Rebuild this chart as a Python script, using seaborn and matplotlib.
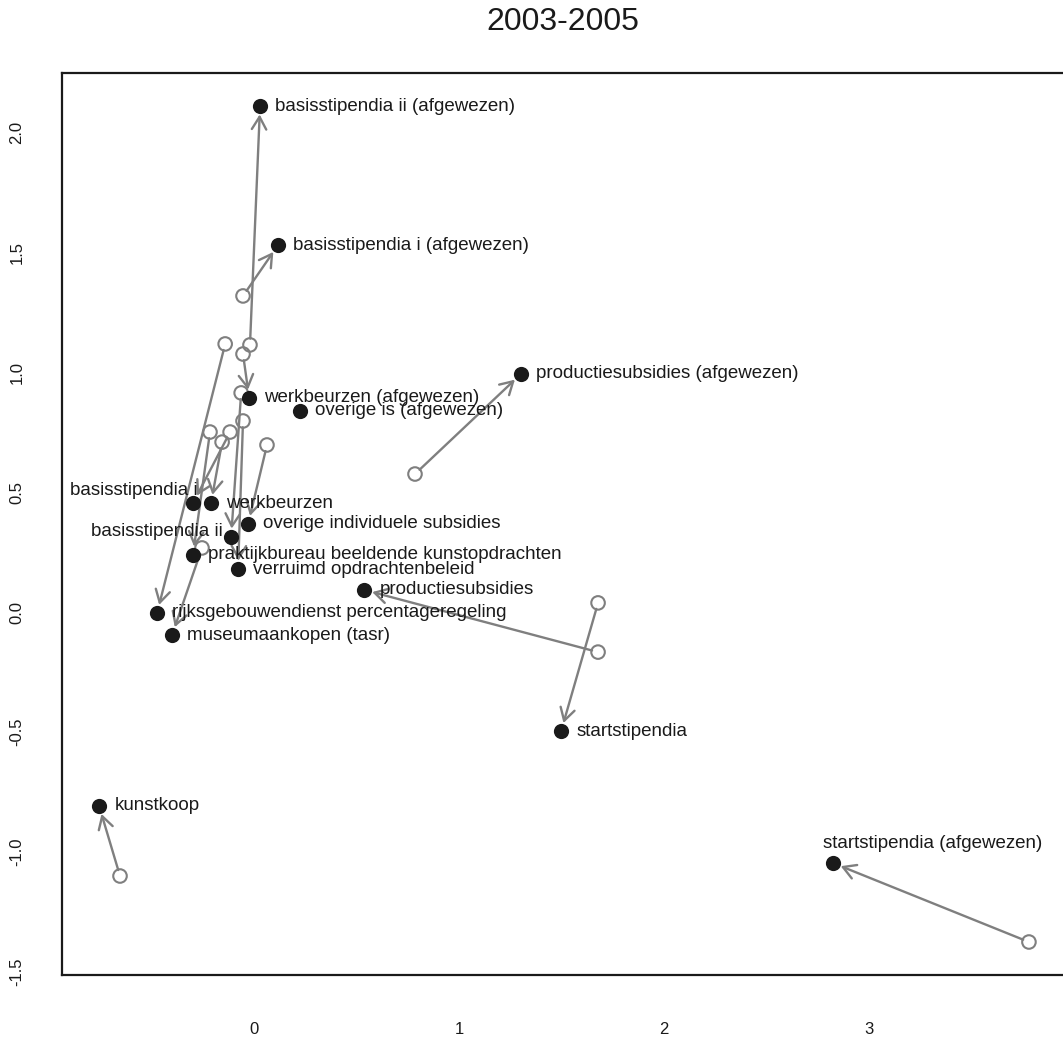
import numpy as np
import pandas as pd
import seaborn as sns
import matplotlib.pyplot as plt

# regelingen (eindpositie 2005 = gevulde punten, beginpositie 2003 = open cirkels)
names = ['basisstipendia ii (afgewezen)', 'basisstipendia i (afgewezen)',
         'productiesubsidies (afgewezen)', 'werkbeurzen (afgewezen)',
         'overige is (afgewezen)', 'basisstipendia i', 'werkbeurzen',
         'overige individuele subsidies', 'basisstipendia ii',
         'praktijkbureau beeldende kunstopdrachten', 'verruimd opdrachtenbeleid',
         'productiesubsidies', 'rijksgebouwendienst percentageregeling',
         'museumaankopen (tasr)', 'startstipendia', 'kunstkoop',
         'startstipendia (afgewezen)']

x_2005 = [0.029, 0.117, 1.302, -0.024, 0.224, -0.298, -0.210, -0.029, -0.112,
          -0.298, -0.078, 0.537, -0.473, -0.400, 1.498, -0.756, 2.824]
y_2005 = [2.108, 1.529, 0.992, 0.892, 0.838, 0.454, 0.454, 0.367, 0.313,
          0.238, 0.179, 0.092, -0.004, -0.096, -0.496, -0.808, -1.046]

x_2003 = [-0.020, -0.054, 0.785, -0.054, np.nan, -0.117, -0.156, 0.063, -0.063,
          -0.215, -0.054, 1.678, -0.141, -0.254, 1.678, -0.654, 3.780]
y_2003 = [1.113, 1.317, 0.575, 1.075, np.nan, 0.750, 0.708, 0.696, 0.913,
          0.750, 0.796, -0.167, 1.117, 0.267, 0.038, -1.100, -1.375]

x_ticks = [0, 1, 2, 3]
y_ticks = [-1.5, -1.0, -0.5, 0.0, 0.5, 1.0, 1.5, 2.0]

df = pd.DataFrame({'name': names, 'x0': x_2003, 'y0': y_2003,
                   'x1': x_2005, 'y1': y_2005})

sns.set_style('white')
plt.rcParams['font.family'] = ['Liberation Sans', 'DejaVu Sans']

grey = '#7f7f7f'
ink = '#1a1a1a'

fig = plt.figure(figsize=(10.63, 10.37), dpi=100)
ax = fig.add_axes([62 / 1063, 62 / 1037, 1002 / 1063, 902 / 1037])

# pijlen van 2003 naar 2005
for _, r in df.dropna().iterrows():
    ax.annotate('', xy=(r['x1'], r['y1']), xytext=(r['x0'], r['y0']),
                arrowprops=dict(arrowstyle='->, head_length=0.45, head_width=0.26',
                                mutation_scale=20, color=grey, lw=1.7,
                                shrinkA=4.5, shrinkB=6))

sns.scatterplot(data=df, x='x0', y='y0', ax=ax, s=95, facecolor='none',
                edgecolor=grey, linewidth=1.5, zorder=3)
sns.scatterplot(data=df, x='x1', y='y1', ax=ax, s=120, color=ink,
                edgecolor=ink, linewidth=0, zorder=4)

# labels: standaard rechts van het punt, een paar uitzonderingen
special = {
    'basisstipendia i': dict(xytext=(3, 9), ha='right'),
    'basisstipendia ii': dict(xytext=(-6, 4), ha='right'),
    'startstipendia (afgewezen)': dict(xytext=(-7, 14), ha='left'),
}
for _, r in df.iterrows():
    opts = special.get(r['name'], dict(xytext=(11, 0), ha='left'))
    ax.annotate(r['name'], xy=(r['x1'], r['y1']), textcoords='offset points',
                xytext=opts['xytext'], ha=opts['ha'], va='center',
                fontsize=13.5, color=ink, zorder=5)

ax.set_xlim(-0.937, 3.951)
ax.set_ylim(-1.5125, 2.246)
ax.set_xticks(x_ticks)
ax.set_xticklabels([str(v) for v in x_ticks])
ax.set_yticks(y_ticks)
ax.set_yticklabels(['%.1f' % v for v in y_ticks], rotation=90, va='center')
ax.tick_params(axis='both', length=13, width=1.2, color=ink,
               labelsize=12, labelcolor=ink, direction='out')
ax.tick_params(axis='x', pad=21)
ax.tick_params(axis='y', pad=14)
ax.set_xlabel('')
ax.set_ylabel('')
for side in ['left', 'top', 'bottom']:
    ax.spines[side].set_color(ink)
    ax.spines[side].set_linewidth(1.6)
ax.spines['right'].set_visible(False)

fig.text(563 / 1063, 1 - 22 / 1037, '2003-2005', ha='center', va='center',
         fontsize=23, color=ink)

plt.savefig('out.png', dpi=100)
